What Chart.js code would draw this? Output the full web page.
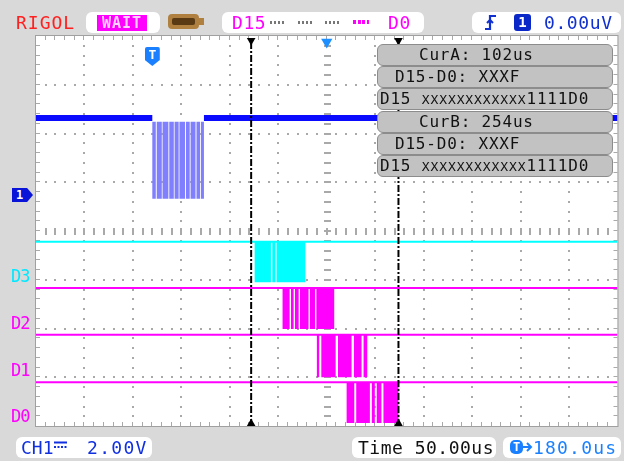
<!DOCTYPE html>
<html><head><meta charset="utf-8">
<script src="https://cdn.jsdelivr.net/npm/chart.js@4/dist/chart.umd.min.js"></script>
<style>
html,body{margin:0;padding:0;background:#d9d9d9;width:624px;height:461px;overflow:hidden;font-family:"DejaVu Sans Mono",monospace;}
#wrap{position:relative;width:624px;height:461px;}
canvas{position:absolute;left:0;top:0;}
.abs{position:absolute;white-space:pre;}
.box{position:absolute;background:#fff;border-radius:6px;}
.t18{font-size:18px;line-height:21px;letter-spacing:0.6px;}
.cur{position:absolute;left:377px;width:234px;height:20px;background:#c2c2c2;border:1px solid #8c8c8c;border-radius:6px;font-size:16px;line-height:20px;letter-spacing:0.8px;color:#111;}
.dl{position:absolute;left:11px;font-size:17px;line-height:17px;letter-spacing:-1px;}
.dots{position:absolute;top:21px;height:3px;width:14px;background:repeating-linear-gradient(90deg,#777 0 2px,transparent 2px 4px);}
</style></head>
<body><div id="wrap">
<canvas id="c" width="624" height="461"></canvas>

<!-- top bar -->
<div class="abs t18" style="left:16px;top:12px;color:#ff2020;letter-spacing:1px;">RIGOL</div>
<div class="box" style="left:86px;top:12px;width:74px;height:21px;"></div>
<div class="abs" style="left:97px;top:15px;width:50px;height:16px;background:#ff00ff;color:#ffd0ff;font-size:15px;line-height:16px;font-weight:bold;text-align:center;letter-spacing:1px;">WAIT</div>
<div class="abs" style="left:168px;top:14px;width:31px;height:15px;background:#b08040;border-radius:4px;"></div>
<div class="abs" style="left:172px;top:18px;width:23px;height:7px;background:#5a3a14;border-radius:2px;"></div>
<div class="abs" style="left:199px;top:18px;width:5px;height:7px;background:#b08040;"></div>
<div class="box" style="left:222px;top:12px;width:202px;height:21px;"></div>
<div class="abs t18" style="left:232px;top:12px;color:#ff00ff;">D15</div>
<div class="dots" style="left:270px;"></div>
<div class="dots" style="left:298px;"></div>
<div class="dots" style="left:325px;"></div>
<div class="dots" style="left:353px;width:16px;height:4px;top:20px;background:repeating-linear-gradient(90deg,#ff00ff 0 3px,transparent 3px 4.5px);"></div>
<div class="abs t18" style="left:388px;top:12px;color:#ff00ff;">D0</div>
<div class="box" style="left:472px;top:12px;width:149px;height:21px;"></div>
<svg class="abs" style="left:484px;top:14px;" width="14" height="17" viewBox="0 0 14 17"><path d="M1 15 H6 V2 H12" stroke="#1030d0" stroke-width="2.2" fill="none"/><path d="M3 9 L6 6 L9 9" stroke="#1030d0" stroke-width="2" fill="none"/></svg>
<div class="abs" style="left:514px;top:14px;width:17px;height:17px;background:#0a28c8;border-radius:3px;color:#fff;font-size:14px;line-height:17px;font-weight:bold;text-align:center;">1</div>
<div class="abs t18" style="left:544px;top:12px;color:#1030d0;">0.00uV</div>

<!-- cursor panel -->
<div class="cur" style="top:44px;"><span style="position:absolute;left:41px;">CurA: 102us</span></div>
<div class="cur" style="top:66px;"><span style="position:absolute;left:17px;">D15-D0: XXXF</span></div>
<div class="cur" style="top:88px;"><span style="position:absolute;left:2px;">D15 <span style="font-size:13px;letter-spacing:0.9px;">XXXXXXXXXXXX</span>1111D0</span></div>
<div class="cur" style="top:111px;"><span style="position:absolute;left:41px;">CurB: 254us</span></div>
<div class="cur" style="top:133px;"><span style="position:absolute;left:17px;">D15-D0: XXXF</span></div>
<div class="cur" style="top:155px;"><span style="position:absolute;left:2px;">D15 <span style="font-size:13px;letter-spacing:0.9px;">XXXXXXXXXXXX</span>1111D0</span></div>

<!-- left labels -->
<div class="dl" style="top:268px;color:#00e8ff;">D3</div>
<div class="dl" style="top:315px;color:#ff00ff;">D2</div>
<div class="dl" style="top:362px;color:#ff00ff;">D1</div>
<div class="dl" style="top:408px;color:#ff00ff;">D0</div>
<div id="gnd" class="abs" style="left:12px;width:21px;height:14px;background:#0a14d8;clip-path:polygon(0 0,72% 0,100% 50%,72% 100%,0 100%);color:#fff;font-size:12px;line-height:14px;font-weight:bold;"><span style="position:absolute;left:4px;">1</span></div>
<div id="tmark" class="abs" style="top:47px;width:15px;height:19px;background:#1a80ff;clip-path:polygon(0 0,100% 0,100% 68%,50% 100%,0 68%);border-radius:2px;color:#fff;font-size:13px;line-height:15px;font-weight:bold;text-align:center;">T</div>

<!-- bottom bar -->
<div class="box" style="left:16px;top:437px;width:136px;height:21px;"></div>
<div class="abs t18" style="left:21px;top:437px;color:#1030e0;letter-spacing:0px;">CH1</div>
<svg class="abs" style="left:54px;top:441px;" width="13" height="8"><line x1="0" y1="1.5" x2="13" y2="1.5" stroke="#1030e0" stroke-width="2"/><line x1="0" y1="6" x2="13" y2="6" stroke="#1030e0" stroke-width="2" stroke-dasharray="2 1.5"/></svg>
<div class="abs t18" style="left:87px;top:437px;color:#1030e0;letter-spacing:1.3px;">2.00V</div>
<div class="box" style="left:352px;top:437px;width:144px;height:21px;"></div>
<div class="abs t18" style="left:358px;top:437px;color:#111;letter-spacing:0.5px;">Time 50.00us</div>
<div class="box" style="left:503px;top:437px;width:118px;height:21px;"></div>
<div class="abs" style="left:510px;top:440px;width:13px;height:14px;background:#1a80ff;border-radius:5px;color:#fff;font-size:12px;line-height:14px;font-weight:bold;text-align:center;">T</div>
<svg class="abs" style="left:522px;top:441px;" width="11" height="12"><path d="M0 6 H9 M5 2 L9 6 L5 10" stroke="#1a80ff" stroke-width="2" fill="none"/></svg>
<div class="abs t18" style="left:533px;top:437px;color:#1a80ff;letter-spacing:1.2px;">180.0us</div>
</div>

<script>
// ---- data ----
const timeRangeUs = [-120, 480];          // 12 div x 50 us, trigger at 0
const usPerDiv = 50;
const voltRange = [-9.48, 6.52];          // CH1: 2.00 V/div, ground marker at 0 V
const divRange = [0, 8];                  // vertical divisions (digital traces)
const cursorTimesUs = [102, 254];         // CurA, CurB
const triggerCenterUs = 180;              // horizontal offset (centre of screen)

// CH1 analog
const ch1BaselineV = 3.16;
const ch1BurstV = [3.0, -0.16];           // burst top / bottom
const ch1BurstUs = [0, 53.3];
const ch1GapsUs = [[3.6,4.6],[9.8,10.6],[16.6,17.5],[22.2,23.0],[27.2,28.0],[33.8,34.8],[38.6,39.5],[44.6,45.6],[49.3,50.2]];

// digital channels
const digitalNames = ['D3','D2','D1','D0'];
const digitalColors = ['#00ffff','#ff00ff','#ff00ff','#ff00ff'];
const digitalHigh = [3.78, 2.83, 1.87, 0.90];   // in divisions from bottom
const digitalLow  = [2.95, 1.99, 1.00, 0.06];
const digitalBurstUs = [[105.6,157.9],[134.4,187.7],[169.8,221.8],[200.5,254.0]];
const digitalGapsUs = [
  [[122.4,123.8],[127.0,128.2]],
  [[141.7,143.1],[145.8,147.2],[151.0,152.4],[161.2,162.6],[168.0,169.3]],
  [[172.2,174.4],[189.2,191.6],[205.6,208.0],[215.9,218.0]],
  [[208.4,210.4],[224.5,226.5],[229.6,231.6],[236.4,238.5]]
];

// ---- build datasets ----
function segments(burst, gaps){
  const out=[]; let s=burst[0];
  for(const g of gaps){ out.push([s,g[0]]); s=g[1]; }
  out.push([s,burst[1]]); return out;
}
function steppedBlocks(segs, hi, lo){
  const pts=[{x:timeRangeUs[0],y:lo}];
  for(const [a,b] of segs){ pts.push({x:a,y:hi},{x:b,y:lo}); }
  pts.push({x:timeRangeUs[1],y:lo}); return pts;
}

const datasets=[];
// markers (top-most)
datasets.push({ order:0, yAxisID:'yD', showLine:false,
  data: cursorTimesUs.map(t=>({x:t,y:7.908})).concat(cursorTimesUs.map(t=>({x:t,y:0.05}))),
  pointStyle:'triangle', pointRadius:5, pointRotation:[180,180,0,0],
  pointBackgroundColor:'#000', pointBorderColor:'#000', pointBorderWidth:0 });
datasets.push({ order:0, yAxisID:'yD', showLine:false,
  data:[{x:triggerCenterUs,y:7.877}], pointStyle:'triangle', pointRadius:6.5, pointRotation:180,
  pointBackgroundColor:'#1e8fff', pointBorderColor:'#1e8fff', pointBorderWidth:0 });
// cursor lines
cursorTimesUs.forEach(t=>datasets.push({ order:1, yAxisID:'yD',
  data:[{x:t,y:divRange[0]},{x:t,y:divRange[1]}], borderColor:'#000', borderWidth:2,
  borderDash:[7,2,2,2], pointRadius:0 }));
// digital traces
digitalNames.forEach((n,i)=>{
  datasets.push({ order:2, yAxisID:'yD', label:n,
    data:[{x:timeRangeUs[0],y:digitalHigh[i]},{x:timeRangeUs[1],y:digitalHigh[i]}],
    borderColor:digitalColors[i], borderWidth:2, pointRadius:0 });
  datasets.push({ order:3, yAxisID:'yD', label:n+' burst',
    data: steppedBlocks(segments(digitalBurstUs[i], digitalGapsUs[i]), digitalHigh[i], digitalLow[i]),
    stepped:true, borderColor:'rgba(0,0,0,0)', borderWidth:1, pointRadius:0,
    fill:{value:digitalLow[i]}, backgroundColor:digitalColors[i] });
});
// CH1
datasets.push({ order:4, yAxisID:'y', label:'CH1',
  data:[{x:timeRangeUs[0],y:ch1BaselineV},{x:ch1BurstUs[0],y:ch1BaselineV},{x:(ch1BurstUs[0]+ch1BurstUs[1])/2,y:null},
        {x:ch1BurstUs[1],y:ch1BaselineV},{x:timeRangeUs[1],y:ch1BaselineV}],
  borderColor:'#0a0aff', borderWidth:6, pointRadius:0, spanGaps:false });
datasets.push({ order:5, yAxisID:'y', label:'CH1 burst',
  data: steppedBlocks(segments(ch1BurstUs, ch1GapsUs), ch1BurstV[0], ch1BurstV[1]),
  stepped:true, borderColor:'rgba(0,0,0,0)', borderWidth:1, pointRadius:0,
  fill:{value:ch1BurstV[1]}, backgroundColor:'#8080ff' });

// ---- grid plugin (drawn from the scales) ----
const scopeGrid = {
  id:'scopeGrid',
  beforeDraw(chart){
    const {ctx, chartArea:a} = chart;
    ctx.save(); ctx.fillStyle='#fff'; ctx.fillRect(a.left,a.top,a.right-a.left,a.bottom-a.top); ctx.restore();
  },
  beforeDatasetsDraw(chart){
    const {ctx, chartArea:a, scales} = chart;
    const xs=scales.x, ys=scales.yD;
    const xDivs=[], yDivs=[];
    for(let t=timeRangeUs[0]; t<=timeRangeUs[1]+1e-6; t+=usPerDiv) xDivs.push(xs.getPixelForValue(t));
    for(let d=divRange[0]; d<=divRange[1]; d++) yDivs.push(ys.getPixelForValue(d));
    const dx=(xDivs[1]-xDivs[0])/5, dy=(yDivs[0]-yDivs[1])/5;
    ctx.save();
    ctx.fillStyle='#a9a9a9';
    for(let i=1;i<xDivs.length-1;i++){
      if(i===6) continue;
      for(let y=a.top+dy; y<a.bottom-1; y+=dy) ctx.fillRect(Math.round(xDivs[i])-1,Math.round(y)-1,2,2);
    }
    for(let j=1;j<yDivs.length-1;j++){
      if(j===4) continue;
      for(let x=a.left+dx; x<a.right-1; x+=dx) ctx.fillRect(Math.round(x)-1,Math.round(yDivs[j])-1,2,2);
    }
    const cx=xDivs[6], cy=yDivs[4];
    for(let y=a.top+dy; y<a.bottom-1; y+=dy) ctx.fillRect(Math.round(cx)-3,Math.round(y)-1,7,2);
    for(let x=a.left+dx; x<a.right-1; x+=dx) ctx.fillRect(Math.round(x)-1,Math.round(cy)-3,2,7);
    for(let x=a.left+dx; x<a.right-1; x+=dx){ ctx.fillRect(Math.round(x)-1,a.top,1,4); ctx.fillRect(Math.round(x)-1,a.bottom-4,1,4); }
    for(let y=a.top+dy; y<a.bottom-1; y+=dy){ ctx.fillRect(a.left,Math.round(y)-1,4,1); ctx.fillRect(a.right-4,Math.round(y)-1,4,1); }
    ctx.strokeStyle='#a0a0a0'; ctx.lineWidth=1;
    ctx.strokeRect(a.left-0.5,a.top-0.5,a.right-a.left+1,a.bottom-a.top+1);
    ctx.restore();
  }
};

const chart = new Chart(document.getElementById('c'), {
  type:'line',
  data:{datasets},
  options:{
    responsive:false, animation:false, events:[],
    layout:{padding:{left:36,top:36,right:3,bottom:35}},
    scales:{
      x:{type:'linear', min:timeRangeUs[0], max:timeRangeUs[1], display:false},
      y:{type:'linear', min:voltRange[0], max:voltRange[1], display:false},
      yD:{type:'linear', min:divRange[0], max:divRange[1], display:false}
    },
    plugins:{legend:{display:false}, tooltip:{enabled:false}},
    elements:{line:{tension:0}}
  },
  plugins:[scopeGrid]
});

const gy = chart.scales.y.getPixelForValue(0);
document.getElementById('gnd').style.top = (gy-7)+'px';
const tx = chart.scales.x.getPixelForValue(0);
document.getElementById('tmark').style.left = (tx-7.5)+'px';
</script>
</body></html>
